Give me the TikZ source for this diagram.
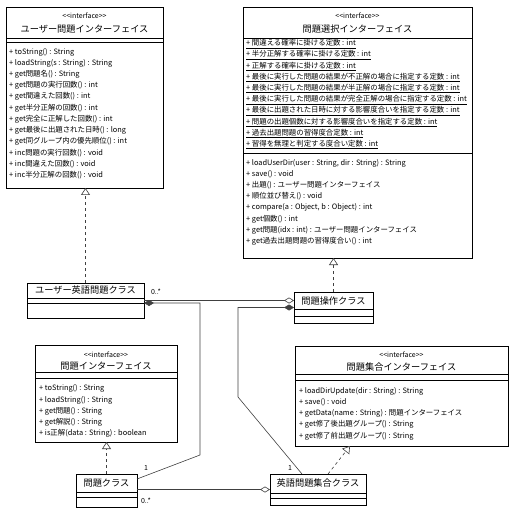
\documentclass[tikz,border=0pt]{standalone}
\usepackage{fontspec}
\setmainfont{Noto Sans CJK JP}
\usetikzlibrary{arrows.meta, positioning, shadows}
\newcommand{\ifstereo}{<\kern0pt<interface>\kern0pt>}
\tikzset{
    classbox/.style={draw=black, fill=white, anchor=north west, inner sep=0pt, outer sep=0pt, line width=0.7pt,
        drop shadow={shadow xshift=1.2pt, shadow yshift=-1.2pt, fill=black!45, opacity=1}},
    stereo/.style={inner sep=0pt, font=\fontsize{7}{8}\selectfont},
    cname/.style={inner sep=0pt, font=\fontsize{9.2}{10}\selectfont},
    member/.style={anchor=west, inner sep=0pt, font=\fontsize{7.4}{8}\selectfont},
    mult/.style={inner sep=0pt, font=\fontsize{7}{8}\selectfont},
    compline/.style={draw=black, line width=0.5pt},
    assoc/.style={draw=black!75, line width=0.6pt},
    realize/.style={-{Triangle[open, length=7pt, width=9pt, fill=white]}, dash pattern=on 3pt off 3pt, draw=black!75, line width=0.6pt}
}

\begin{document}
\begin{tikzpicture}[x=1pt, y=-1pt]
    \useasboundingbox (0,0) rectangle (518,518);

    % class boxes
    \node [classbox, minimum width=157pt, minimum height=181pt] (userif) at (6,7) {};
    \node [classbox, minimum width=229pt, minimum height=251pt] (selif) at (243,7) {};
    \node [classbox, minimum width=117pt, minimum height=35pt] (uqclass) at (27,283) {};
    \node [classbox, minimum width=79pt, minimum height=31pt] (opclass) at (294,292) {};
    \node [classbox, minimum width=213pt, minimum height=100pt] (setif) at (295,346) {};
    \node [classbox, minimum width=96pt, minimum height=31pt] (eqset) at (270,474) {};
    \node [classbox, minimum width=142pt, minimum height=97pt] (qif) at (35,345) {};
    \node [classbox, minimum width=61pt, minimum height=33pt] (qclass) at (76,474) {};

    % compartments
    \foreach \cls/\ya/\yb in {userif/38/42, selif/38/153, uqclass/298/303, opclass/309/316,
                              setif/374/380, eqset/493/498, qif/372/378, qclass/492/497} {
        \draw [compline] (\cls.west |- 0,\ya) -- (\cls.east |- 0,\ya);
        \draw [compline] (\cls.west |- 0,\yb) -- (\cls.east |- 0,\yb);
    }

    % headers
    \node [stereo] (userifst) at (84.5,16) {\ifstereo};
    \node [cname] (userifnm) at (84.5,29.5) {ユーザー問題インターフェイス};
    \node [stereo] (selifst) at (357.5,16) {\ifstereo};
    \node [cname] (selifnm) at (357.5,29.5) {問題選択インターフェイス};
    \node [stereo] (setifst) at (401.5,355) {\ifstereo};
    \node [cname] (setifnm) at (401.5,367.5) {問題集合インターフェイス};
    \node [stereo] (qifst) at (106,355) {\ifstereo};
    \node [cname] (qifnm) at (106,366) {問題インターフェイス};
    \node [cname] (uqclassnm) at (85.5,290.5) {ユーザー英語問題クラス};
    \node [cname] (opclassnm) at (333.5,301) {問題操作クラス};
    \node [cname] (eqsetnm) at (318,483) {英語問題集合クラス};
    \node [cname] (qclassnm) at (106.5,483) {問題クラス};

    % members
    \foreach \txt [count=\i from 0] in {{+ toString() : String}, {+ loadString(s : String) : String},
        {+ get問題名() : String}, {+ get問題の実行回数() : int}, {+ get間違えた回数() : int},
        {+ get半分正解の回数() : int}, {+ get完全に正解した回数() : int}, {+ get最後に出題された日時() : long},
        {+ get同グループ内の優先順位() : int}, {+ inc問題の実行回数() : void}, {+ inc間違えた回数() : void},
        {+ inc半分正解の回数() : void}}
        \node [member] (userifm\i) at (9,52+11.2*\i) {\txt};

    \foreach \txt [count=\i from 0] in {{+ 間違える確率に掛ける定数 : int}, {+ 半分正解する確率に掛ける定数 : int},
        {+ 正解する確率に掛ける定数 : int}, {+ 最後に実行した問題の結果が不正解の場合に指定する定数 : int},
        {+ 最後に実行した問題の結果が半正解の場合に指定する定数 : int},
        {+ 最後に実行した問題の結果が完全正解の場合に指定する定数 : int},
        {+ 最後に出題された日時に対する影響度合いを指定する定数 : int},
        {+ 問題の出題個数に対する影響度合いを指定する定数 : int}, {+ 過去出題問題の習得度合定数 : int},
        {+ 習得を無理と判定する度合い定数 : int}}
        \node [member] (selifa\i) at (246,44+11.2*\i) {\underline{\txt}};

    \foreach \txt [count=\i from 0] in {{+ loadUserDir(user : String, dir : String) : String}, {+ save() : void},
        {+ 出題() : ユーザー問題インターフェイス}, {+ 順位並び替え() : void}, {+ compare(a : Object, b : Object) : int},
        {+ get個数() : int}, {+ get問題(idx : int) : ユーザー問題インターフェイス}, {+ get過去出題問題の習得度合い() : int}}
        \node [member] (selifm\i) at (246,163+11.2*\i) {\txt};

    \foreach \txt [count=\i from 0] in {{+ loadDirUpdate(dir : String) : String}, {+ save() : void},
        {+ getData(name : String) : 問題インターフェイス}, {+ get修了後出題グループ() : String},
        {+ get修了前出題グループ() : String}}
        \node [member] (setifm\i) at (299,391+11.2*\i) {\txt};

    \foreach \txt [count=\i from 0] in {{+ toString() : String}, {+ loadString() : String}, {+ get問題() : String},
        {+ get解説() : String}, {+ is正解(data : String) : boolean}}
        \node [member] (qifm\i) at (39,388.8+11.2*\i) {\txt};

    % realizations
    \draw [realize] (uqclass.north) -- (uqclass.north |- userif.south);
    \draw [realize] (opclass.north) -- (opclass.north |- selif.south);
    \draw [realize] (qclass.north) -- (qclass.north |- qif.south);
    \draw [realize] ([xshift=58pt]eqset.north west) -- ([xshift=55pt]setif.south west);

    % associations
    \coordinate (bendb1) at (200,303);
    \coordinate (bendb2) at (200,455);
    \coordinate (bendc1) at (238,307.5);
    \coordinate (bendc2) at (238,397);
    \draw [assoc, {Diamond[open, length=10pt, width=6pt, fill=white]}-] ([yshift=7pt]opclass.west) -- ([yshift=7pt]opclass.west -| uqclass.east);
    \draw [assoc, {Diamond[length=10pt, width=6pt]}-] ([yshift=-2.5pt]uqclass.east) -- (bendb1) -- (bendb2) -- ([yshift=-5pt]qclass.north east);
    \draw [assoc, {Diamond[length=10pt, width=6pt]}-] (opclass.west) -- (bendc1) -- (bendc2) -- ([xshift=32pt]eqset.north west);
    \draw [assoc, {Diamond[open, length=10pt, width=6pt, fill=white]}-] (eqset.west) -- (eqset.west -| qclass.east);

    % multiplicities
    \node [mult] (multua) at (156,292) {0..*};
    \node [mult] (multqb) at (146,468) {1};
    \node [mult] (multec) at (290,468) {1};
    \node [mult] (multqd) at (146,501) {0..*};
\end{tikzpicture}
\end{document}
